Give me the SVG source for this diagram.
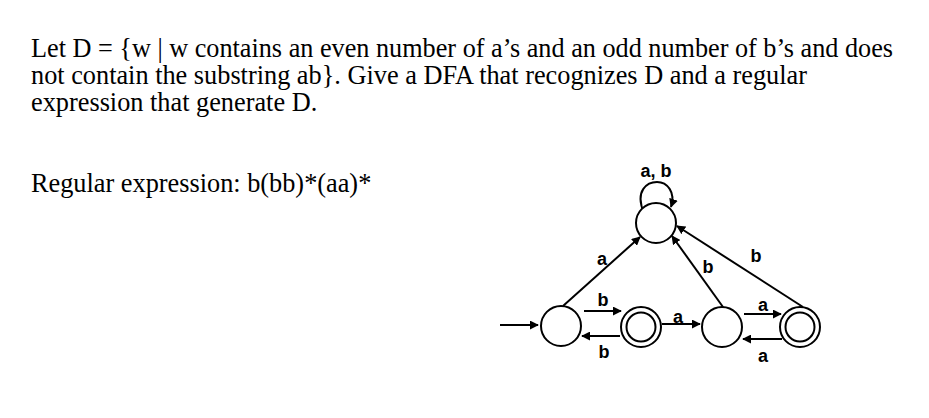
<svg xmlns="http://www.w3.org/2000/svg" width="929" height="418" viewBox="0 0 929 418">
<style>
.t{font-family:"Liberation Serif","Times New Roman",serif;font-size:26.3px;fill:#000}
.st{fill:#fff;stroke:#000;stroke-width:2}
.e{fill:none;stroke:#000;stroke-width:2;marker-end:url(#ah)}
.l{font-family:"Liberation Sans",Arial,sans-serif;font-weight:bold;font-size:18px;fill:#000;text-anchor:middle}
</style>
<defs>
<marker id="ah" viewBox="0 0 10 10" refX="9" refY="5" markerWidth="4.5" markerHeight="4.5" orient="auto" markerUnits="strokeWidth">
<path d="M0,0 L10,5 L0,10 z" fill="#000"/>
</marker>
</defs>
<rect width="929" height="418" fill="#fff"/>
<g id="problem">
<text class="t" x="31" y="57" textLength="862" lengthAdjust="spacingAndGlyphs">Let D = {w | w contains an even number of a’s and an odd number of b’s and does</text>
<text class="t" x="31" y="84">not contain the substring ab}. Give a DFA that recognizes D and a regular</text>
<text class="t" x="31" y="111">expression that generate D.</text>
<text class="t" x="31" y="192">Regular expression: b(bb)*(aa)*</text>
</g>
<g id="connectors">
<path class="e" d="M500,325 L538,325"/>
<path class="e" d="M644,213 C634,190 648,182 657,182 C667,182 676,192 671,207"/>
<text class="l" x="656" y="177">a, b</text>
<path class="e" d="M563,306 L640,237"/>
<text class="l" x="602" y="265">a</text>
<path class="e" d="M723,307 L672,236"/>
<text class="l" x="708" y="273">b</text>
<path class="e" d="M803,307 L677,226"/>
<text class="l" x="756" y="262">b</text>
<path class="e" d="M584,311 L621,311"/>
<text class="l" x="603" y="306">b</text>
<path class="e" d="M620,336 L582,336"/>
<text class="l" x="604" y="358">b</text>
<path class="e" d="M662,324 L700,324"/>
<text class="l" x="678" y="323">a</text>
<path class="e" d="M744,314 L781,314"/>
<text class="l" x="763" y="311">a</text>
<path class="e" d="M782,339 L743,339"/>
<text class="l" x="763" y="362">a</text>
</g>
<g id="q_trap"><circle class="st" cx="656" cy="223" r="20"/></g>
<g id="q0"><circle class="st" cx="561" cy="326" r="20"/></g>
<g id="q1"><circle class="st" cx="641" cy="327" r="20"/><circle class="st" cx="641" cy="327" r="14.5"/></g>
<g id="q2"><circle class="st" cx="722" cy="327" r="20"/></g>
<g id="q3"><circle class="st" cx="800" cy="327" r="20"/><circle class="st" cx="800" cy="327" r="14.5"/></g>
</svg>
